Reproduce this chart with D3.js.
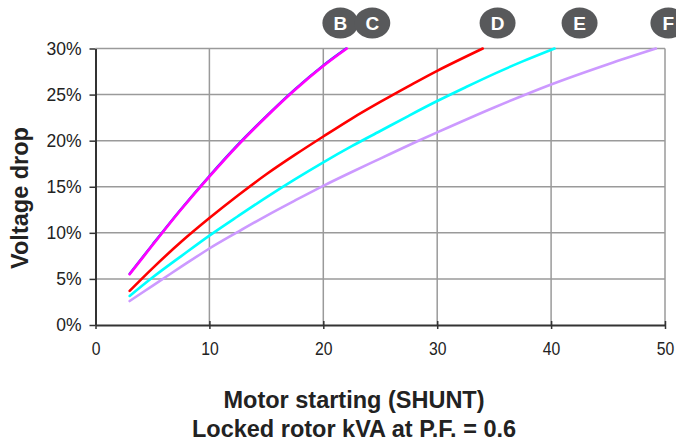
<!DOCTYPE html>
<html><head><meta charset="utf-8">
<script src="https://cdn.jsdelivr.net/npm/d3@7"></script>
<style>
body{margin:0;background:#fff;}
svg{display:block;}
</style></head>
<body>
<svg id="chart" width="676" height="441"></svg>
<script>
// ---- data (x = locked rotor kVA, y = voltage drop %) ----
const xTicks = [0, 10, 20, 30, 40, 50];
const yTicks = [0, 5, 10, 15, 20, 25, 30];
const seriesNames = ["B", "C", "D", "E", "F"];
const seriesColors = ["#3a3aff", "#ff00ff", "#ff0000", "#00ffff", "#cc99ff"];
const xB = [3, 5, 7.5, 10, 12.5, 15, 17.5, 20, 22.0];
const yB = [5.55, 8.72, 12.57, 16.17, 19.57, 22.67, 25.57, 28.17, 30];
const xC = [3, 5, 7.5, 10, 12.5, 15, 17.5, 20, 22.07];
const yC = [5.5, 8.65, 12.5, 16.1, 19.5, 22.6, 25.5, 28.1, 30];
const xD = [3, 5, 7.5, 10, 12.5, 15, 17.5, 20, 22.5, 25, 27.5, 30, 34.0];
const yD = [3.7, 6.15, 9.0, 11.6, 14.05, 16.35, 18.45, 20.45, 22.4, 24.2, 25.92, 27.58, 30];
const xE = [3, 5, 7.5, 10, 12.5, 15, 17.5, 20, 22.5, 25, 27.5, 30, 32.5, 35, 37.5, 40.3];
const yE = [3.15, 5.15, 7.45, 9.7, 11.8, 13.85, 15.8, 17.65, 19.4, 21.05, 22.7, 24.3, 25.8, 27.25, 28.6, 30];
const xF = [3, 5, 7.5, 10, 12.5, 15, 17.5, 20, 22.5, 25, 27.5, 30, 35, 40, 45, 49.2];
const yF = [2.6, 4.25, 6.3, 8.3, 10.1, 11.85, 13.5, 15.1, 16.6, 18.05, 19.5, 20.9, 23.6, 26.1, 28.3, 30];
const labelNames = ["B", "C", "D", "E", "F"];
const labelX = [21.5, 24.3, 35.3, 42.5, 50.3];
const xTitle1 = "Motor starting (SHUNT)";
const xTitle2 = "Locked rotor kVA at P.F. = 0.6";
const yTitle = "Voltage drop";

const seriesX = [xB, xC, xD, xE, xF];
const seriesY = [yB, yC, yD, yE, yF];
const seriesWidths = [2.4, 2.6, 2.6, 2.6, 2.6];

const svg = d3.select("#chart");
const x = d3.scaleLinear().domain([0, 50]).range([95.5, 665]);
const y = d3.scaleLinear().domain([0, 30]).range([325, 48.5]);
const font = "'Liberation Sans',Arial,sans-serif";

// grid
const g = svg.append("g");
g.selectAll(".vg").data(xTicks.slice(1)).join("line")
  .attr("x1", d => x(d)).attr("x2", d => x(d))
  .attr("y1", y(30)).attr("y2", y(0))
  .attr("stroke", "#9a9a9a").attr("stroke-width", 1.5);
g.selectAll(".hg").data(yTicks.slice(1)).join("line")
  .attr("x1", x(0)).attr("x2", x(50))
  .attr("y1", d => y(d)).attr("y2", d => y(d))
  .attr("stroke", "#9a9a9a").attr("stroke-width", 1.5);

// axes
const xAxis = svg.append("g").attr("transform", `translate(0,${y(0)})`)
  .call(d3.axisBottom(x).tickValues(xTicks).tickSizeInner(4).tickSizeOuter(0).tickPadding(12));
xAxis.select(".domain").attr("stroke", "#333").attr("stroke-width", 2);
xAxis.selectAll(".tick line").attr("stroke", "#333").attr("stroke-width", 1.5).attr("y1", -4);
xAxis.selectAll("text").attr("font-family", font).attr("font-size", 17.5).attr("fill", "#222")
  .attr("transform", "scale(0.9,1.05)");

const yAxis = svg.append("g").attr("transform", `translate(${x(0)},0)`)
  .call(d3.axisLeft(y).tickValues(yTicks).tickFormat(d => d + "%").tickSizeInner(6).tickSizeOuter(0).tickPadding(8));
yAxis.select(".domain").attr("stroke", "#333").attr("stroke-width", 2);
yAxis.selectAll(".tick line").attr("stroke", "#333").attr("stroke-width", 1.5);
yAxis.selectAll("text").attr("font-family", font).attr("font-size", 17.5).attr("fill", "#222");

// curves
const line = d3.line().x(d => x(d[0])).y(d => y(d[1])).curve(d3.curveCatmullRom.alpha(0.5));
seriesNames.forEach((name, i) => {
  const pts = seriesX[i].map((v, j) => [v, seriesY[i][j]]);
  svg.append("path").datum(pts)
    .attr("d", line)
    .attr("fill", "none")
    .attr("stroke", seriesColors[i])
    .attr("stroke-width", seriesWidths[i])
    .attr("stroke-linecap", "round");
});

// series labels
const lab = svg.append("g");
labelNames.forEach((n, i) => {
  const cx = x(labelX[i]);
  lab.append("ellipse").attr("cx", cx).attr("cy", 23).attr("rx", 18).attr("ry", 15.5).attr("fill", "#58595b");
  lab.append("text").attr("x", cx).attr("y", 23).attr("dy", "0.36em")
    .attr("text-anchor", "middle").attr("font-family", font).attr("font-weight", "bold")
    .attr("font-size", 19).attr("fill", "#fff").text(n);
});

// titles
svg.append("text").attr("x", 354).attr("y", 408).attr("text-anchor", "middle")
  .attr("font-family", font).attr("font-weight", "bold").attr("font-size", 23.5).attr("fill", "#222").text(xTitle1);
svg.append("text").attr("x", 354).attr("y", 437).attr("text-anchor", "middle")
  .attr("font-family", font).attr("font-weight", "bold").attr("font-size", 23.5).attr("fill", "#222").text(xTitle2);
svg.append("text").attr("transform", "translate(28,198) rotate(-90)").attr("text-anchor", "middle")
  .attr("font-family", font).attr("font-weight", "bold").attr("font-size", 23.5).attr("fill", "#222").text(yTitle);
</script>
</body></html>
